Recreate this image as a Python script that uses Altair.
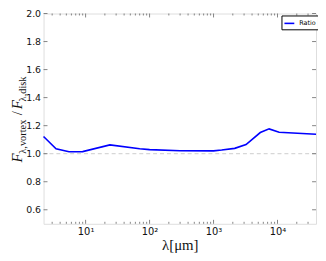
import altair as alt
import pandas as pd

# ---- data ----
wavelength = [2.2, 3.45, 5.5, 9.0, 24, 70, 100, 300, 1000, 1340, 2140, 3220, 5380, 7400, 10600, 40000]
ratio = [1.123, 1.035, 1.014, 1.015, 1.063, 1.035, 1.029, 1.021, 1.020, 1.026, 1.038, 1.065, 1.151, 1.177, 1.153, 1.139]
ref_level = [1.0]
x_major = [10, 100, 1000, 10000]
x_minor = [k * 10 ** d for d in range(0, 5) for k in range(2, 10)
           if 2.2 < k * 10 ** d < 40000]
y_major = [0.6, 0.8, 1.0, 1.2, 1.4, 1.6, 1.8, 2.0]

W, H = 276, 213
FRAME = "#666666"

df = pd.DataFrame({"wl": wavelength, "ratio": ratio, "series": ["Ratio"] * len(ratio)})
xs = alt.Scale(type="log", domain=[wavelength[0], wavelength[-1]], nice=False)
ys = alt.Scale(domain=[0.5, 2.0], nice=False, zero=False)

XAXIS = alt.Axis(values=x_major, ticks=False, domain=False, grid=False,
                 labelExpr="'10' + ['⁰','¹','²','³','⁴','⁵'][round(log(datum.value)/LN10)]",
                 labelFontSize=10, labelPadding=3, labelColor="#111",
                 labelFont="DejaVu Sans", labelOverlap=False,
                 title="λ[μm]", titleFont="Liberation Serif", titleFontSize=15,
                 titleFontWeight="normal", titlePadding=1, titleColor="#111")
YAXIS = alt.Axis(values=y_major, ticks=False, domain=False, grid=False,
                 format=".1f", labelFontSize=9.5, labelPadding=3,
                 labelOverlap=False, labelFlush=False, labelBound=False,
                 labelColor="#111", labelFont="DejaVu Sans", title=None)

line = alt.Chart(df).mark_line(strokeWidth=1.6).encode(
    x=alt.X("wl:Q", scale=xs, axis=XAXIS),
    y=alt.Y("ratio:Q", scale=ys, axis=YAXIS),
    color=alt.Color("series:N", scale=alt.Scale(range=["#0000ff"]),
                    legend=alt.Legend(title=None, orient="none", legendX=241, legendY=2,
                                      symbolType="stroke", symbolSize=100,
                                      symbolStrokeWidth=1.6, labelFontSize=6.5,
                                      labelFont="DejaVu Sans", padding=2,
                                      strokeColor="#000", fillColor="#fff",
                                      labelOffset=4)),
)

dash = alt.Chart(pd.DataFrame({"y": ref_level})).mark_rule(
    color="#cccccc", strokeDash=[4, 3], strokeWidth=1).encode(
    y=alt.Y("y:Q", scale=ys, axis=YAXIS))

def xticks(vals, length):
    d = pd.DataFrame({"v": vals})
    bot = alt.Chart(d).mark_rule(color=FRAME, strokeWidth=0.8).encode(
        x=alt.X("v:Q", scale=xs, axis=XAXIS), y=alt.value(H), y2=alt.value(H - length))
    top = alt.Chart(d).mark_rule(color=FRAME, strokeWidth=0.8).encode(
        x=alt.X("v:Q", scale=xs, axis=XAXIS), y=alt.value(0), y2=alt.value(length))
    return [bot, top]

def yticks(vals, length):
    d = pd.DataFrame({"v": vals})
    left = alt.Chart(d).mark_rule(color=FRAME, strokeWidth=0.8).encode(
        y=alt.Y("v:Q", scale=ys, axis=YAXIS), x=alt.value(0), x2=alt.value(length))
    right = alt.Chart(d).mark_rule(color=FRAME, strokeWidth=0.8).encode(
        y=alt.Y("v:Q", scale=ys, axis=YAXIS), x=alt.value(W), x2=alt.value(W - length))
    return [left, right]

one = pd.DataFrame({"a": [0]})
def label_part(txt, x, y, size, style="normal"):
    return alt.Chart(one).mark_text(
        text=txt, angle=270, align="left", baseline="alphabetic",
        font="Liberation Serif", fontSize=size, fontStyle=style, color="#111"
    ).encode(x=alt.value(x), y=alt.value(y))

ylab = [
    label_part("F", -22, 151, 15, "italic"),
    label_part("λ,vortex", -18, 142, 10.5),
    label_part("/", -22, 103, 15),
    label_part("F", -22, 97, 15, "italic"),
    label_part("λ,disk", -18, 89, 10.5),
]

chart = alt.layer(
    line, dash, *xticks(x_major, 4), *xticks(x_minor, 2), *yticks(y_major, 4), *ylab
).properties(
    width=W, height=H, autosize=alt.AutoSizeParams(type="none"),
    padding={"left": 36, "top": 4, "right": 2, "bottom": 28},
).configure_view(stroke=FRAME, strokeWidth=1.2).configure(background="#ffffff")

chart.save("out.html", embed_options={"renderer": "svg", "actions": False})
